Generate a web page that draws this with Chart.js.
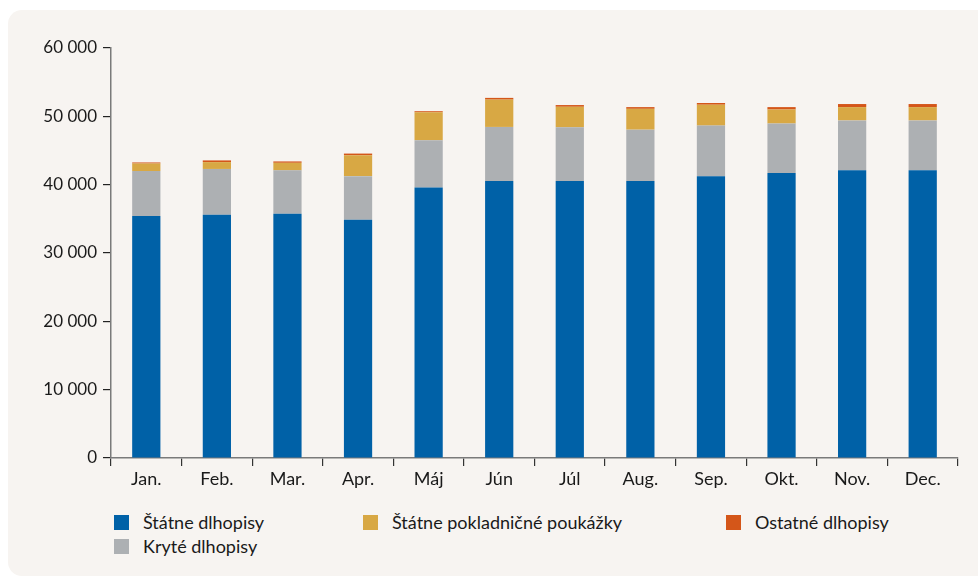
<!DOCTYPE html>
<html>
<head>
<meta charset="utf-8">
<script src="https://cdn.jsdelivr.net/npm/chart.js@4"></script>
<style>
  html, body { margin: 0; padding: 0; background: #ffffff; }
  body { width: 978px; height: 581px; position: relative; overflow: hidden; font-family: Lato, "Open Sans", sans-serif; }
  .panel { position: absolute; left: 8px; top: 10px; width: 990px; height: 566px; background: #f7f4f1; border-radius: 14px; }
  .chartBox { position: absolute; left: 0; top: 0; width: 978px; height: 500px; }
  .legend { position: absolute; left: 0; top: 0; font-size: 18px; color: #1a1a1a; }
  .legend .item { position: absolute; white-space: nowrap; }
  .legend .box { position: absolute; left: 0; top: 3px; width: 15px; height: 15px; }
  .legend .label { position: absolute; left: 29px; top: 0; line-height: 20px; }
</style>
</head>
<body>
<div class="panel"></div>
<div class="chartBox"><canvas id="bondChart"></canvas></div>
<div class="legend" id="legend"></div>
<script>
const months = ['Jan.', 'Feb.', 'Mar.', 'Apr.', 'Máj', 'Jún', 'Júl', 'Aug.', 'Sep.', 'Okt.', 'Nov.', 'Dec.'];
const statneDlhopisy = [35400, 35600, 35750, 34850, 39600, 40550, 40550, 40550, 41250, 41700, 42100, 42100];
const kryteDlhopisy = [6600, 6700, 6350, 6400, 6900, 7900, 7850, 7500, 7400, 7250, 7300, 7300];
const pokladnicnePoukazky = [1100, 1000, 1100, 3050, 4100, 4000, 3000, 3050, 3050, 2050, 1950, 1950];
const ostatneDlhopisy = [150, 250, 200, 250, 150, 250, 250, 250, 250, 350, 450, 450];
const yTicks = [0, 10000, 20000, 30000, 40000, 50000, 60000];

const seriesNames = ['Štátne dlhopisy', 'Kryté dlhopisy', 'Štátne pokladničné poukážky', 'Ostatné dlhopisy'];
const colors = ['#0061a7', '#adb0b3', '#d8a844', '#d45619'];

const formatNum = (v) => String(v).replace(/\B(?=(\d{3})+(?!\d))/g, ' ');

const datasets = [statneDlhopisy, kryteDlhopisy, pokladnicnePoukazky, ostatneDlhopisy].map((vals, i) => ({
    label: seriesNames[i],
    data: vals,
    backgroundColor: colors[i],
    borderWidth: 0,
    barPercentage: 0.4,
    categoryPercentage: 1
}));

const ctx = document.getElementById('bondChart').getContext('2d');
new Chart(ctx, {
    type: 'bar',
    data: { labels: months, datasets },
    options: {
        responsive: true,
        maintainAspectRatio: false,
        animation: false,
        layout: { padding: { left: 0, right: 20, top: 48, bottom: 0 } },
        plugins: { legend: { display: false }, tooltip: { enabled: false } },
        scales: {
            x: {
                stacked: true,
                offset: true,
                grid: { offset: true, drawOnChartArea: false, drawTicks: true, tickLength: 8, color: '#333333', lineWidth: 1.2 },
                border: { display: true, color: '#7a7a7a', width: 1.5 },
                ticks: { color: '#1a1a1a', font: { family: 'Lato', size: 18 }, padding: 2 },
                afterFit: (scale) => { scale.height = 42; }
            },
            y: {
                stacked: true,
                min: 0,
                max: 60000,
                afterBuildTicks: (scale) => { scale.ticks = yTicks.map(v => ({ value: v })); },
                grid: { drawOnChartArea: false, drawTicks: true, tickLength: 8, color: '#222222', lineWidth: 1.2 },
                border: { display: true, color: '#7a7a7a', width: 1.5 },
                ticks: { color: '#1a1a1a', font: { family: 'Lato', size: 17 }, padding: 6, callback: (v) => formatNum(v) },
                afterFit: (scale) => { scale.width = 111; }
            }
        }
    }
});

// legend laid out like the original: three columns, wrap to second row
const legendPos = [[114, 512], [114, 536], [363, 512], [726, 512]];
const legendEl = document.getElementById('legend');
seriesNames.forEach((name, i) => {
    const item = document.createElement('div');
    item.className = 'item';
    item.style.left = legendPos[i][0] + 'px';
    item.style.top = legendPos[i][1] + 'px';
    item.innerHTML = `<span class="box" style="background:${colors[i]}"></span><span class="label">${name}</span>`;
    legendEl.appendChild(item);
});
</script>
</body>
</html>
